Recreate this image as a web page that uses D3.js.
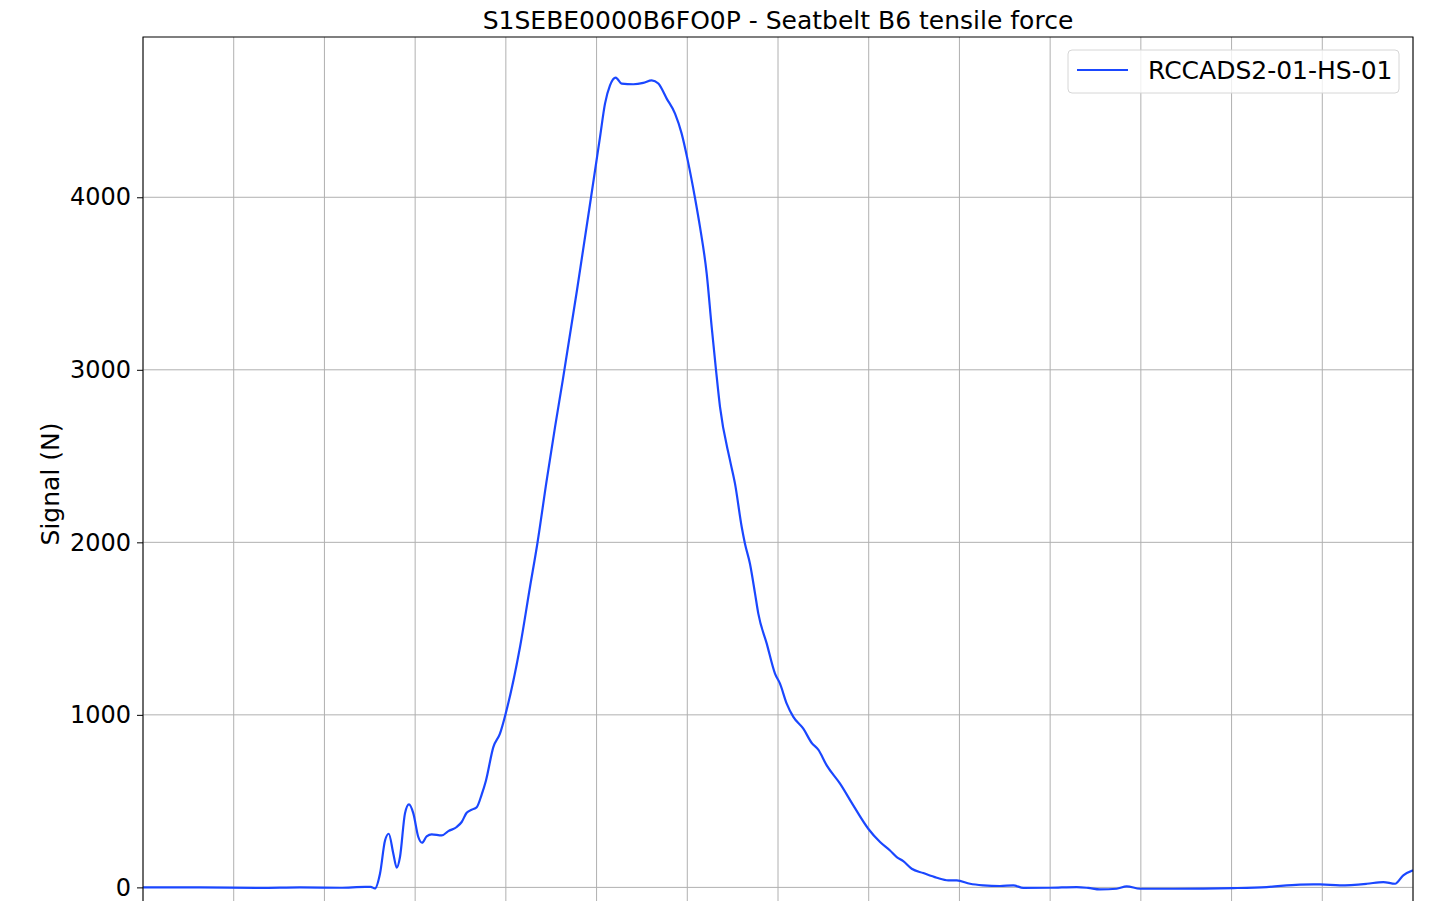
<!DOCTYPE html>
<html>
<head>
<meta charset="utf-8">
<script src="https://cdn.jsdelivr.net/npm/d3@7"></script>
<style>
  html, body { margin: 0; padding: 0; background: #fff; overflow: hidden; }
  svg { display: block; font-family: "DejaVu Sans", sans-serif; }
</style>
</head>
<body>
<svg id="chart" width="1433" height="901"></svg>
<script>
const title = "S1SEBE0000B6FO0P - Seatbelt B6 tensile force";
const yLabel = "Signal (N)";
const seriesName = "RCCADS2-01-HS-01";
const yTicks = [0, 1000, 2000, 3000, 4000];
const xTicks = [0, 10, 20, 30, 40, 50, 60, 70, 80, 90, 100, 110, 120, 130, 140];

const time = [0, 6.28, 12.9, 17.3, 21.7, 24.5, 25.1, 25.56, 26.13, 26.68, 27.09, 27.59, 27.97, 28.33, 28.88, 29.32, 29.8, 30.35, 30.76, 31.27, 31.83, 32.93, 33.66, 34.58, 35.13, 35.68, 36.23, 36.79, 37.34, 37.81, 38.62, 39.35, 39.98, 41.56, 42.66, 43.47, 44.5, 45.42, 46.27, 47.84, 49.39, 50.38, 50.93, 51.48, 52.11, 52.77, 54.05, 55.15, 56.08, 56.81, 57.73, 58.65, 59.38, 60.05, 60.85, 61.4, 62.14, 62.69, 63.17, 63.61, 64.71, 65.26, 66.0, 66.36, 66.91, 67.47, 67.83, 68.76, 69.67, 70.22, 70.96, 71.69, 72.79, 73.72, 74.44, 75.37, 76.84, 78.3, 79.95, 81.25, 82.35, 83.09, 83.81, 84.74, 86.02, 87.5, 88.77, 89.7, 91.17, 92.63, 94.47, 95.94, 97.04, 99.98, 102.93, 104.2, 105.5, 107.34, 108.44, 109.91, 113.58, 120.19, 123.87, 127.54, 129.75, 131.95, 134.9, 136.73, 138.02, 138.93, 140];
const signal = [0, 0, -3, 0, -2, 3, 3, -6, 81, 272, 311, 197, 114, 176, 429, 481, 429, 292, 259, 296, 307, 301, 326, 350, 379, 433, 450, 465, 539, 620, 813, 891, 1007, 1393, 1741, 1992, 2359, 2668, 2939, 3461, 4000, 4349, 4543, 4649, 4694, 4659, 4655, 4663, 4678, 4659, 4572, 4485, 4369, 4214, 3996, 3828, 3558, 3248, 2997, 2784, 2475, 2340, 2089, 1992, 1876, 1703, 1587, 1413, 1239, 1181, 1065, 988, 920, 837, 798, 707, 601, 475, 340, 263, 214, 176, 152, 108, 83, 56, 41, 41, 21, 12, 8, 12, -3, -2, 2, -3, -12, -8, 6, -8, -8, -4, 2, 16, 17, 12, 21, 31, 21, 70, 99];

const data = time.map((t, i) => ({ t, v: signal[i] }));

const svg = d3.select("#chart");
const mLeft = 143, mRight = 1413, mTop = 37, mBottom = 930;

const x = d3.scaleLinear().domain([0, 140]).range([mLeft, mRight]);
const y = d3.scaleLinear().domain([-247, 4929]).range([mBottom, mTop]);

// grid
const grid = svg.append("g");
grid.selectAll("line.vx").data(xTicks).join("line")
  .attr("class", "vx")
  .attr("x1", d => x(d)).attr("x2", d => x(d))
  .attr("y1", mTop).attr("y2", mBottom)
  .attr("stroke", "#b0b0b0").attr("stroke-width", 1);
grid.selectAll("line.hy").data(yTicks).join("line")
  .attr("class", "hy")
  .attr("x1", mLeft).attr("x2", mRight)
  .attr("y1", d => y(d)).attr("y2", d => y(d))
  .attr("stroke", "#b0b0b0").attr("stroke-width", 1);

// clip
svg.append("clipPath").attr("id", "clip").append("rect")
  .attr("x", mLeft).attr("y", mTop).attr("width", mRight - mLeft).attr("height", mBottom - mTop);

// line
const line = d3.line().x(d => x(d.t)).y(d => y(d.v)).curve(d3.curveMonotoneX);
svg.append("path").datum(data)
  .attr("clip-path", "url(#clip)")
  .attr("d", line)
  .attr("fill", "none")
  .attr("stroke", "#1a47ff")
  .attr("stroke-width", 2.2)
  .attr("stroke-linejoin", "round");

// y axis
const yAxis = d3.axisLeft(y).tickValues(yTicks).tickSize(6).tickPadding(6).tickFormat(d3.format("d"));
const gy = svg.append("g").attr("transform", `translate(${mLeft},0)`).call(yAxis);
gy.select(".domain").remove();
gy.selectAll(".tick line").attr("stroke", "#000").attr("stroke-width", 1);
gy.selectAll(".tick text").attr("font-size", 24).attr("fill", "#000")
  .attr("font-family", "DejaVu Sans, sans-serif");

// spines
svg.append("rect").attr("x", mLeft).attr("y", mTop)
  .attr("width", mRight - mLeft).attr("height", mBottom - mTop)
  .attr("fill", "none").attr("stroke", "#000").attr("stroke-width", 1);

// title
svg.append("text").attr("x", (mLeft + mRight) / 2).attr("y", 29)
  .attr("text-anchor", "middle").attr("font-size", 25).attr("fill", "#000")
  .text(title);

// y label
svg.append("text")
  .attr("transform", `translate(59,484) rotate(-90)`)
  .attr("text-anchor", "middle").attr("font-size", 25).attr("fill", "#000")
  .text(yLabel);

// legend
const lg = svg.append("g");
lg.append("rect").attr("x", 1068).attr("y", 50).attr("width", 331).attr("height", 43)
  .attr("rx", 4).attr("fill", "#fff").attr("fill-opacity", 0.8)
  .attr("stroke", "#d6d6d6").attr("stroke-width", 1);
lg.append("line").attr("x1", 1077).attr("x2", 1128).attr("y1", 70).attr("y2", 70)
  .attr("stroke", "#1a47ff").attr("stroke-width", 2.2);
lg.append("text").attr("x", 1148).attr("y", 79).attr("font-size", 25).attr("fill", "#000")
  .text(seriesName);
</script>
</body>
</html>
